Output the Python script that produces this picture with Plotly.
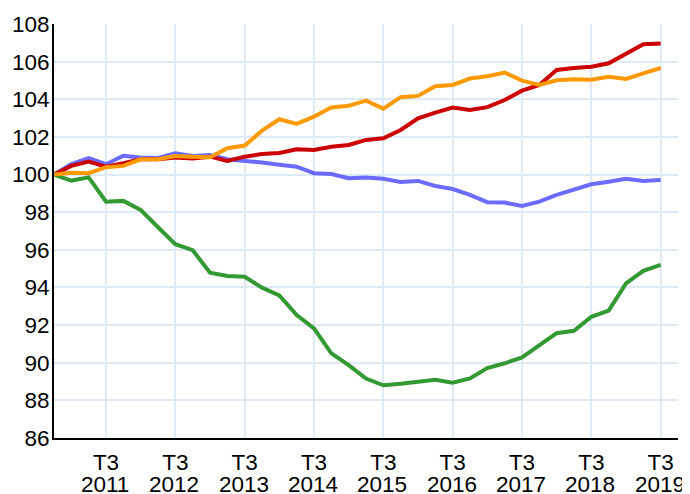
import plotly.graph_objects as go

# Quarter labels (T = trimestre), from T4 2010 to T3 2019
quarters = ["T4 2010"] + [f"T{q} {y}" for y in range(2011, 2020) for q in (1, 2, 3, 4)][:35]

red = [100, 100.46, 100.69, 100.42, 100.6, 100.81, 100.81, 100.9, 100.85, 100.95,
       100.72, 100.95, 101.09, 101.15, 101.34, 101.31, 101.48, 101.57, 101.84, 101.93,
       102.37, 102.99, 103.29, 103.56, 103.43, 103.58, 103.96, 104.46, 104.76, 105.56,
       105.66, 105.73, 105.91, 106.44, 106.92, 106.97]
orange = [100, 100.1, 100.07, 100.39, 100.46, 100.81, 100.81, 100.99, 100.95, 100.92,
          101.4, 101.54, 102.33, 102.94, 102.69, 103.08, 103.56, 103.65, 103.93, 103.5,
          104.11, 104.18, 104.69, 104.76, 105.1, 105.22, 105.42, 104.99, 104.76, 105.01,
          105.06, 105.04, 105.2, 105.08, 105.38, 105.66]
blue = [100, 100.56, 100.87, 100.55, 101.0, 100.9, 100.88, 101.13, 100.99, 101.04,
        100.81, 100.74, 100.64, 100.52, 100.42, 100.07, 100.03, 99.8, 99.84, 99.78,
        99.61, 99.66, 99.39, 99.23, 98.92, 98.53, 98.51, 98.33, 98.56, 98.92,
        99.22, 99.48, 99.62, 99.77, 99.66, 99.71]
green = [100, 99.68, 99.85, 98.56, 98.6, 98.12, 97.2, 96.3, 95.98, 94.78,
         94.61, 94.57, 93.99, 93.58, 92.53, 91.82, 90.5, 89.87, 89.16, 88.8,
         88.88, 88.98, 89.1, 88.94, 89.17, 89.72, 89.97, 90.28, 90.94, 91.57,
         91.7, 92.44, 92.77, 94.21, 94.88, 95.2]

y_ticks = list(range(86, 109, 2))

xs = list(range(len(quarters)))
tick_idx = [i for i, q in enumerate(quarters) if q.startswith("T3")]
tick_quarter = [quarters[i].split()[0] for i in tick_idx]
tick_year = [quarters[i].split()[1] for i in tick_idx]

FONT = "Liberation Sans, Arial, sans-serif"
FS = 22.5
fig = go.Figure()
series = [
    ("Série bleue", blue, "#6b6bff"),
    ("Série rouge", red, "#cc0000"),
    ("Série verte", green, "#339933"),
    ("Série orange", orange, "#ff9900"),
]
for name, vals, col in series:
    fig.add_trace(go.Scatter(x=xs, y=vals, mode="lines", name=name,
                             line=dict(color=col, width=4), hoverinfo="x+y"))

for i, yr in zip(tick_idx, tick_year):
    fig.add_annotation(x=i, y=0, xref="x", yref="paper", text=yr, showarrow=False,
                       yanchor="top", yshift=-32, xshift=-1,
                       font=dict(family=FONT, size=FS, color="#000"))

# the page body has an 8px margin, so the figure is sized/offset to compensate
fig.update_layout(
    width=682, height=486,
    margin=dict(l=46, r=12, t=16, b=56),
    paper_bgcolor="white", plot_bgcolor="white",
    showlegend=False,
    font=dict(family=FONT, size=FS, color="#000"),
    xaxis=dict(range=[0, len(quarters)], tickmode="array", tickvals=tick_idx,
               ticktext=tick_quarter, showgrid=True, gridcolor="#deeaf6", gridwidth=2,
               showline=True, linecolor="#000", linewidth=2, ticks="",
               ticklabelstandoff=3, zeroline=False, automargin=False,
               tickfont=dict(family=FONT, size=FS, color="#000")),
    yaxis=dict(range=[86, 108], tickmode="array", tickvals=y_ticks,
               showgrid=True, gridcolor="#deeaf6", gridwidth=2,
               showline=True, linecolor="#000", linewidth=2, ticks="",
               ticklabelstandoff=-2, zeroline=False, automargin=False,
               tickfont=dict(family=FONT, size=FS, color="#000")),
)
fig.write_html("out.html")
